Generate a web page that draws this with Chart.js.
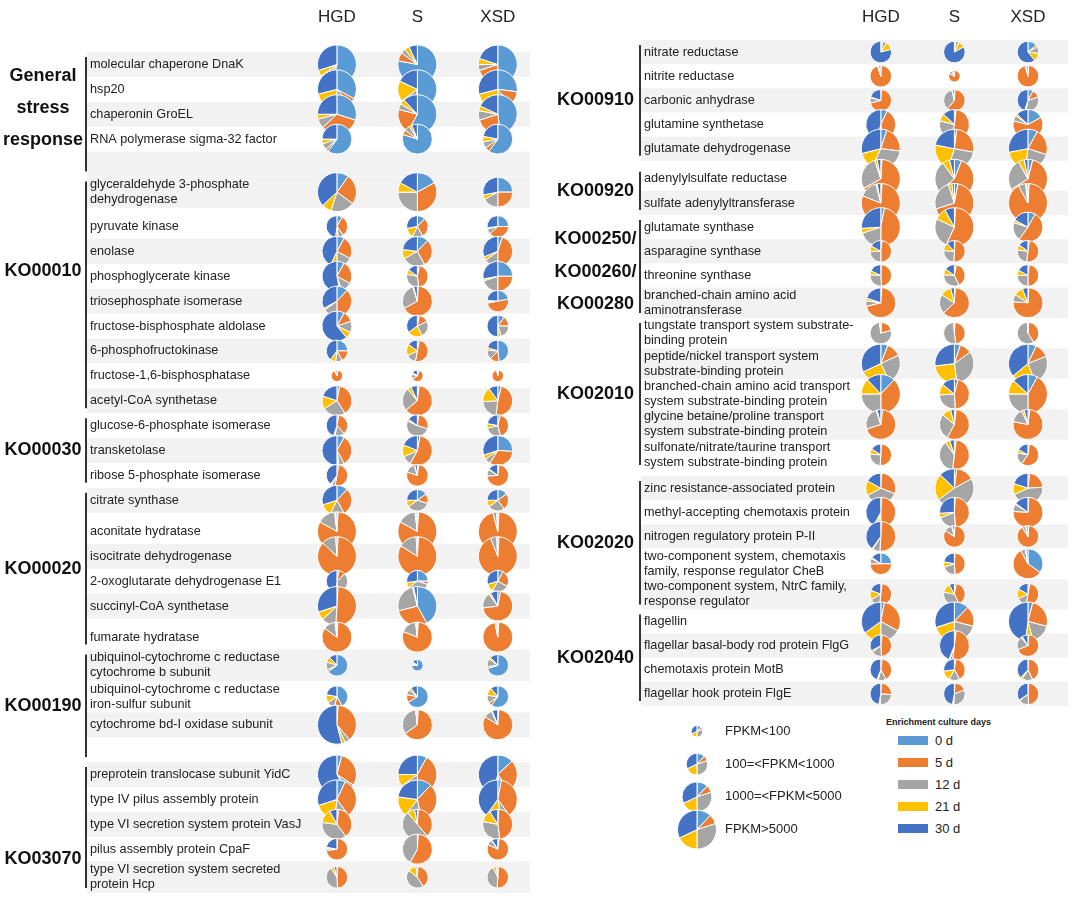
<!DOCTYPE html>
<html>
<head>
<meta charset="utf-8">
<script src="https://cdn.jsdelivr.net/npm/chart.js@4.4.1/dist/chart.umd.min.js"></script>
<style>
  body { margin: 0; background: #fff; }
  #wrap { position: relative; width: 1080px; height: 899px; overflow: hidden; font-family: "Liberation Sans", Arial, sans-serif; }
  canvas { position: absolute; }
  #left { left: 0; top: 0; }
  #right { left: 540px; top: 0; }
  #sizes { left: 672px; top: 712px; }
  #days { position: absolute; left: 886px; top: 716px; color: #222; }
  #days .ttl { font-weight: bold; font-size: 9px; line-height: 13px; margin-bottom: 1px; }
  #days .it { height: 21.8px; display: flex; align-items: center; font-size: 13px; }
  #days .sw { width: 30px; height: 9px; margin-left: 12px; margin-right: 7px; }
</style>
</head>
<body>
<div id="wrap">
  <canvas id="left" width="540" height="899"></canvas>
  <canvas id="right" width="540" height="710"></canvas>
  <canvas id="sizes" width="210" height="140"></canvas>
  <div id="days"><div class="ttl">Enrichment culture days</div></div>
</div>
<script>
// Pie grid: each pie = share of reads per enrichment day, size = FPKM class.
const FONT = '"Liberation Sans", Arial, sans-serif';
Chart.defaults.font.family = FONT;
Chart.defaults.color = '#222';

const COLUMNS = ['HGD', 'S', 'XSD'];
const DAYS = ['0 d', '5 d', '12 d', '21 d', '30 d'];
const DAY_COLORS = ['#5B9BD5', '#ED7D31', '#A5A5A5', '#FFC000', '#4472C4'];
const FPKM_CLASSES = ['FPKM<100', '100=<FPKM<1000', '1000=<FPKM<5000', 'FPKM>5000'];
const LEGEND_SHARES = [12, 8, 30, 18, 32];

const CLASS_RADIUS = [5.8, 10.8, 15, 19.5];
const TWO_LINE = 1.26; // row height of a two-line label, in rows
const GAP = 0.25;      // extra space the source table leaves before some rows

// ---------- left panel ----------
const LEFT_LABELS = [
  'molecular chaperone DnaK', 'hsp20', 'chaperonin GroEL', 'RNA polymerase sigma-32 factor', '',
  ['glyceraldehyde 3-phosphate', 'dehydrogenase'], 'pyruvate kinase', 'enolase', 'phosphoglycerate kinase',
  'triosephosphate isomerase', 'fructose-bisphosphate aldolase', '6-phosphofructokinase',
  'fructose-1,6-bisphosphatase', 'acetyl-CoA synthetase',
  'glucose-6-phosphate isomerase', 'transketolase', 'ribose 5-phosphate isomerase',
  'citrate synthase', 'aconitate hydratase', 'isocitrate dehydrogenase', '2-oxoglutarate dehydrogenase E1',
  'succinyl-CoA synthetase', 'fumarate hydratase',
  ['ubiquinol-cytochrome c reductase', 'cytochrome b subunit'],
  ['ubiquinol-cytochrome c reductase', 'iron-sulfur subunit'], 'cytochrome bd-I oxidase subunit', '',
  'preprotein translocase subunit YidC', 'type IV pilus assembly protein', 'type VI secretion system protein VasJ',
  'pilus assembly protein CpaF', ['type VI secretion system secreted', 'protein Hcp']
];
const LEFT_GAPS = [6, 18, 22];
// [name, first row, last row, row the name sits on (optional, may be fractional)]
const LEFT_GROUPS = [
  [['General', 'stress', 'response'], 0, 4, 1.75],
  ['KO00010', 5, 13, 7.8],
  ['KO00030', 14, 16],
  ['KO00020', 17, 22],
  ['KO00190', 23, 26],
  ['KO03070', 27, 31, 30.35]
];
// FPKM class per row: [HGD, S, XSD]
const LEFT_SIZE = [
  [3,3,3],[3,3,3],[3,3,3],[2,2,2],null,
  [3,3,2],[1,1,1],[2,2,2],[2,1,2],[2,2,1],[2,1,1],[1,1,1],[0,0,0],[2,2,2],
  [1,1,1],[2,2,2],[1,1,1],
  [2,1,1],[3,3,3],[3,3,3],[1,1,1],[3,3,2],[2,2,2],
  [1,0,1],[1,1,1],[3,2,2],null,
  [3,3,3],[3,3,3],[2,2,2],[1,2,1],[1,1,1]
];
// shares per day [0d, 5d, 12d, 21d, 30d]
const LEFT_HGD = [
  [54,6,5,5,30],[33,6,12,20,29],[30,33,8,4,25],[60,3,7,5,25],null,
  [10,25,20,8,37],[8,32,8,4,48],[8,25,17,7,43],[8,25,12,2,53],[12,38,15,2,33],[8,12,12,7,61],
  [25,17,10,8,40],[3,90,2,0,5],[3,38,25,14,20],
  [3,35,15,2,45],[8,34,6,2,50],[3,50,5,2,40],
  [12,30,15,13,30],[1,82,15,1,1],[1,86,12,0,1],[3,10,35,3,49],[1,50,12,7,30],[1,84,13,1,1],
  [65,3,12,8,12],[42,12,12,12,22],[1,38,4,3,54],null,
  [4,30,6,2,58],[7,33,12,18,30],[2,38,37,15,8],[1,72,3,2,22],[1,48,42,5,4]
];
const LEFT_S = [
  [78,7,4,4,7],[50,3,12,17,18],[58,21,5,4,12],[80,5,6,3,6],null,
  [17,33,25,8,17],[12,30,15,15,28],[12,30,25,10,23],[3,45,30,7,15],[1,66,28,1,4],[3,15,25,22,35],
  [3,50,15,17,15],[5,60,15,5,15],[2,62,25,4,7],
  [2,28,52,3,15],[3,55,10,13,19],[2,78,15,1,4],
  [15,15,35,10,25],[1,82,15,1,1],[1,83,15,0,1],[25,5,35,8,27],[42,29,25,1,3],[1,80,17,1,1],
  [75,3,5,2,15],[66,12,8,4,10],[1,64,33,1,1],null,
  [8,42,15,10,25],[12,35,13,17,23],[1,38,50,8,3],[1,57,42,0,0],[1,40,45,12,2]
];
const LEFT_XSD = [
  [50,20,5,5,20],[27,12,10,22,29],[48,22,8,4,18],[60,5,7,6,22],null,
  [25,25,17,5,28],[25,38,8,2,27],[5,45,15,4,31],[25,25,20,2,28],[22,50,3,1,24],[10,15,20,5,50],
  [48,14,14,4,20],[3,94,2,0,1],[4,48,22,16,10],
  [4,42,25,7,22],[26,33,6,5,30],[2,72,10,1,15],
  [15,25,25,10,25],[1,95,3,0,1],[1,93,5,0,1],[8,25,25,12,30],[3,70,17,2,8],[1,96,2,0,1],
  [70,3,12,3,12],[60,5,12,12,11],[1,83,9,1,6],null,
  [13,27,8,6,46],[3,37,7,13,40],[1,47,30,13,9],[2,80,8,1,9],[1,50,42,5,2]
];

// ---------- right panel ----------
const RIGHT_LABELS = [
  'nitrate reductase', 'nitrite reductase', 'carbonic anhydrase', 'glutamine synthetase', 'glutamate dehydrogenase',
  'adenylylsulfate reductase', 'sulfate adenylyltransferase',
  'glutamate synthase', 'asparagine synthase', 'threonine synthase', ['branched-chain amino acid', 'aminotransferase'],
  ['tungstate transport system substrate-', 'binding protein'],
  ['peptide/nickel transport system', 'substrate-binding protein'],
  ['branched-chain amino acid transport', 'system substrate-binding protein'],
  ['glycine betaine/proline transport', 'system substrate-binding protein'],
  ['sulfonate/nitrate/taurine transport', 'system substrate-binding protein'],
  'zinc resistance-associated protein', 'methyl-accepting chemotaxis protein', 'nitrogen regulatory protein P-II',
  ['two-component system, chemotaxis', 'family, response regulator CheB'],
  ['two-component system, NtrC family,', 'response regulator'],
  'flagellin', 'flagellar basal-body rod protein FlgG', 'chemotaxis protein MotB', 'flagellar hook protein FlgE'
];
const RIGHT_GAPS = [5, 16];
const RIGHT_GROUPS = [
  ['KO00910', 0, 4],
  ['KO00920', 5, 6],
  [['KO00250/', 'KO00260/', 'KO00280'], 7, 10, 8.85],
  ['KO02010', 11, 15],
  ['KO02020', 16, 20],
  ['KO02040', 21, 24]
];
const RIGHT_SIZE = [
  [1,1,1],[1,0,1],[1,1,1],[2,2,2],[3,3,3],
  [3,3,3],[3,3,3],
  [3,3,2],[1,1,1],[1,1,1],[2,2,2],
  [1,1,1],[3,3,3],[3,2,3],[2,2,2],[1,2,1],
  [2,3,2],[2,2,2],[2,1,1],[1,1,2],[1,1,1],
  [3,3,3],[1,2,1],[1,1,1],[1,1,1]
];
const RIGHT_HGD = [
  [2,1,6,12,79],[1,94,2,0,3],[1,70,8,1,20],[7,42,3,2,46],[5,22,30,14,29],
  [1,66,28,2,3],[1,80,15,1,3],
  [3,47,20,4,26],[2,48,25,8,17],[1,48,27,6,18],[1,70,6,3,20],
  [1,20,77,1,1],[6,12,25,25,32],[12,38,25,13,12],[2,68,25,1,4],[1,50,25,8,16],
  [1,30,36,16,17],[1,49,4,4,42],[1,50,8,1,40],[25,50,8,2,15],[2,50,15,14,19],
  [3,30,17,15,35],[2,47,15,3,33],[2,40,12,2,44],[1,25,25,2,47]
];
const RIGHT_S = [
  [1,1,5,10,83],[1,82,10,2,5],[1,60,35,1,3],[2,52,25,8,13],[2,26,27,23,22],
  [6,58,26,6,4],[3,67,25,3,2],
  [1,56,25,10,8],[1,50,25,12,12],[3,40,33,9,15],[1,62,21,12,4],
  [1,47,51,0,1],[5,10,33,25,27],[4,45,25,12,14],[2,56,28,10,4],[2,50,38,5,5],
  [2,15,48,22,13],[1,48,20,5,26],[1,83,12,1,3],[1,48,21,8,22],[3,40,35,14,8],
  [12,17,21,20,30],[2,50,3,1,44],[2,40,16,15,27],[1,18,32,2,47]
];
const RIGHT_XSD = [
  [14,3,10,12,61],[1,95,1,0,3],[8,12,33,2,45],[17,62,6,2,13],[8,22,22,20,28],
  [4,62,26,5,3],[1,91,6,1,1],
  [8,52,20,3,17],[2,50,25,8,15],[2,48,25,8,17],[1,75,8,10,6],
  [1,40,58,0,1],[7,12,25,20,36],[8,42,25,12,13],[2,76,15,3,4],[2,58,18,5,17],
  [2,22,44,12,20],[1,75,8,1,15],[1,90,5,1,3],[35,57,5,1,2],[3,50,15,15,17],
  [4,25,17,6,48],[1,68,20,2,9],[1,42,16,3,38],[1,48,15,1,35]
];

// ---------- drawing ----------
function drawPie(ctx, x, y, r, shares) {
  const total = shares.reduce((a, b) => a + b, 0);
  let a0 = -Math.PI / 2;
  ctx.save();
  ctx.strokeStyle = '#fff';
  ctx.lineWidth = 1;
  shares.forEach((v, k) => {
    if (!v) return;
    const a1 = a0 + v / total * Math.PI * 2;
    ctx.beginPath();
    ctx.moveTo(x, y);
    ctx.arc(x, y, r, a0, a1);
    ctx.closePath();
    ctx.fillStyle = DAY_COLORS[k];
    ctx.fill();
    ctx.stroke();
    a0 = a1;
  });
  ctx.restore();
}

function drawPies(chart) {
  chart.data.datasets.forEach((ds, d) => {
    chart.getDatasetMeta(d).data.forEach((pt, i) => {
      drawPie(chart.ctx, pt.x, pt.y, pt.options.radius, ds.data[i].shares);
    });
  });
}

function rowLayout(labels, gaps) {
  const spans = [];
  let y = 0;
  labels.forEach((l, i) => {
    if (gaps.includes(i)) y += GAP;
    const h = Array.isArray(l) ? TWO_LINE : 1;
    spans.push([y, y + h]);
    y += h;
  });
  return {spans, total: y, centers: spans.map(s => (s[0] + s[1]) / 2)};
}

const hidden = {grid: {display: false, drawTicks: false}, border: {display: false}};

// fixed axis size; ticks sit inside the rows, so no edge padding for end labels
function fixAxis(size) {
  return a => {
    if (a.isHorizontal()) a.height = size; else a.width = size;
    a.paddingTop = a.paddingBottom = a.paddingLeft = a.paddingRight = 0;
  };
}

function makePanel(canvasId, cfg) {
  const rows = rowLayout(cfg.labels, cfg.gaps);
  // fractional row index -> axis value, between row centres
  const rowValue = at => {
    const k = Math.floor(at), f = at - k;
    return f ? rows.centers[k] + f * (rows.centers[k + 1] - rows.centers[k]) : rows.centers[k];
  };
  const groupAt = cfg.groups.map(g => g[3] != null
    ? rowValue(g[3])
    : (rows.spans[g[1]][0] + rows.spans[g[2]][1]) / 2);

  const datasets = COLUMNS.map((name, c) => ({
    label: name,
    yAxisID: 'y',
    data: cfg.shares[c]
      .map((s, i) => s && {x: c, y: rows.centers[i], shares: s, size: cfg.sizes[i][c]})
      .filter(Boolean),
    pointRadius: ctx => ctx.raw ? CLASS_RADIUS[ctx.raw.size] : 0,
    pointBackgroundColor: 'rgba(0,0,0,0)',
    pointBorderWidth: 0
  }));

  // row shading + group brackets behind the labels, pies on top
  const chrome = {
    id: 'chrome',
    beforeDraw(chart) {
      const {ctx} = chart;
      const y = chart.scales.y;
      ctx.save();
      ctx.fillStyle = '#F2F2F2';
      rows.spans.forEach((s, i) => {
        if (!cfg.shade(i)) return;
        const t = y.getPixelForValue(s[0]);
        const b = y.getPixelForValue(s[1]);
        ctx.fillRect(y.left - 3, t, cfg.bandRight - y.left + 3, b - t);
      });
      ctx.strokeStyle = '#333';
      ctx.lineWidth = 2;
      cfg.groups.forEach(g => {
        const t = y.getPixelForValue(rows.spans[g[1]][0]) + 5;
        const b = y.getPixelForValue(rows.spans[g[2]][1]) - 5;
        ctx.beginPath();
        ctx.moveTo(y.left - 4, t);
        ctx.lineTo(y.left - 4, b);
        ctx.stroke();
      });
      ctx.restore();
    },
    afterDatasetsDraw: drawPies
  };

  return new Chart(document.getElementById(canvasId), {
    type: 'scatter',
    data: {datasets},
    plugins: [chrome],
    options: {
      responsive: false,
      animation: false,
      events: [],
      layout: {padding: cfg.padding, autoPadding: false},
      plugins: {legend: {display: false}, tooltip: {enabled: false}},
      scales: {
        x: {
          type: 'linear', position: 'top', min: -0.31, max: 2.5, ...hidden,
          afterBuildTicks: a => { a.ticks = COLUMNS.map((_, i) => ({value: i})); },
          ticks: {callback: (v, i) => COLUMNS[i], autoSkip: false, maxRotation: 0,
                  font: {size: 17}, color: '#222', padding: cfg.headerPad},
          afterFit: fixAxis(cfg.headerHeight)
        },
        y: {
          type: 'linear', position: 'left', weight: 0, reverse: true, min: 0, max: rows.total, ...hidden,
          afterBuildTicks: a => { a.ticks = rows.centers.map(v => ({value: v})); },
          ticks: {callback: (v, i) => cfg.labels[i], autoSkip: false, crossAlign: 'far', padding: 0,
                  font: {size: 12.7, lineHeight: 1.18}, color: '#222'},
          afterFit: fixAxis(cfg.labelWidth)
        },
        yg: {
          type: 'linear', position: 'left', weight: 1, reverse: true, min: 0, max: rows.total, ...hidden,
          afterBuildTicks: a => { a.ticks = groupAt.map(v => ({value: v})); },
          ticks: {callback: (v, i) => cfg.groups[i][0], autoSkip: false, crossAlign: 'center',
                  padding: cfg.groupPad, font: {size: 18, weight: 'bold', lineHeight: 1.8}, color: '#111'},
          afterFit: fixAxis(cfg.groupWidth)
        }
      }
    }
  });
}

makePanel('left', {
  labels: LEFT_LABELS, gaps: LEFT_GAPS, groups: LEFT_GROUPS, sizes: LEFT_SIZE,
  shares: [LEFT_HGD, LEFT_S, LEFT_XSD],
  // the source table's banding restarts after the first blank row
  shade: i => (i <= 4 ? i % 2 === 0 : i % 2 === 1),
  groupWidth: 90, groupPad: 7, labelWidth: 222,
  headerHeight: 52, headerPad: 24.8,
  padding: {top: 0, right: 2, bottom: 6, left: 0},
  bandRight: 530
});

makePanel('right', {
  labels: RIGHT_LABELS, gaps: RIGHT_GAPS, groups: RIGHT_GROUPS, sizes: RIGHT_SIZE,
  shares: [RIGHT_HGD, RIGHT_S, RIGHT_XSD],
  shade: i => i % 2 === 0,
  groupWidth: 104, groupPad: 7.5, labelWidth: 214,
  headerHeight: 40, headerPad: 12.8,
  padding: {top: 0, right: 15.25, bottom: 4, left: 0},
  bandRight: 528
});

// size legend: one pie per FPKM class
new Chart(document.getElementById('sizes'), {
  type: 'scatter',
  data: {datasets: [{
    data: FPKM_CLASSES.map((_, i) => ({x: 0, y: i, shares: LEGEND_SHARES, size: i})),
    pointRadius: ctx => ctx.raw ? CLASS_RADIUS[ctx.raw.size] : 0,
    pointBackgroundColor: 'rgba(0,0,0,0)',
    pointBorderWidth: 0
  }]},
  plugins: [{id: 'pies', afterDatasetsDraw: drawPies}],
  options: {
    responsive: false, animation: false, events: [],
    layout: {padding: {top: 3, bottom: 6, left: 0, right: 0}, autoPadding: false},
    plugins: {legend: {display: false}, tooltip: {enabled: false}},
    scales: {
      x: {type: 'linear', display: false, min: -1, max: 1},
      y: {
        type: 'linear', position: 'right', reverse: true, min: -0.5, max: 3.5, ...hidden,
        afterBuildTicks: a => { a.ticks = FPKM_CLASSES.map((_, i) => ({value: i})); },
        ticks: {callback: (v, i) => FPKM_CLASSES[i], autoSkip: false, crossAlign: 'near', padding: 3,
                font: {size: 13}, color: '#222'},
        afterFit: fixAxis(160)
      }
    }
  }
});

// colour legend
const days = document.getElementById('days');
DAYS.forEach((d, k) => {
  const it = document.createElement('div');
  it.className = 'it';
  it.innerHTML = '<div class="sw" style="background:' + DAY_COLORS[k] + '"></div><span>' + d + '</span>';
  days.appendChild(it);
});
</script>
</body>
</html>
